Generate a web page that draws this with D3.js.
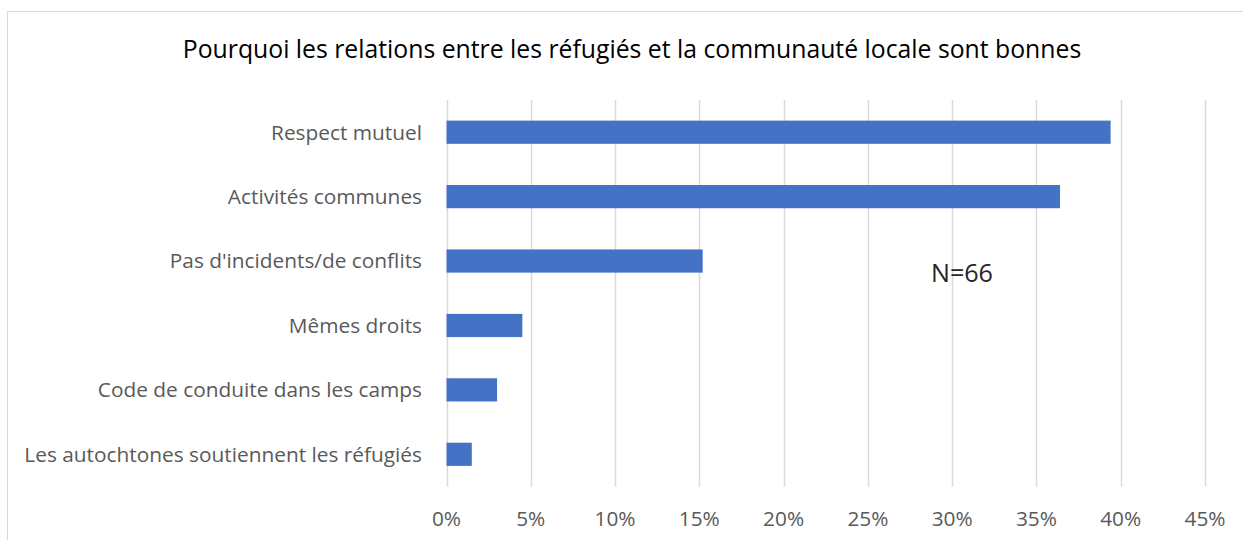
<!DOCTYPE html>
<html><head><meta charset="utf-8">
<script src="https://cdn.jsdelivr.net/npm/d3@7"></script>
<style>body{margin:0;background:#fff;} svg{display:block;}</style>
</head><body>
<svg id="c" width="1243" height="540"></svg>
<script>
const categories = ["Respect mutuel","Activités communes","Pas d'incidents/de conflits","Mêmes droits","Code de conduite dans les camps","Les autochtones soutiennent les réfugiés"];
const values = [39.4, 36.4, 15.2, 4.5, 3.0, 1.5];
const ticks = [0,5,10,15,20,25,30,35,40,45];
const title = "Pourquoi les relations entre les réfugiés et la communauté locale sont bonnes";
const note = "N=66";

const svg = d3.select("#c");
const font = "'Open Sans', Lato, sans-serif";

function fitSize(txt, target, base){
  const t = svg.append("text").attr("font-family",font).attr("font-size",base).text(txt);
  const w = t.node().getComputedTextLength(); t.remove();
  return base*target/w;
}
const titleSize = fitSize(title, 899, 24);
const labelSize = fitSize(categories[5], 398, 18);
const tickSize = fitSize("45%", 41, 18);
const noteSize = fitSize(note, 62, 20);

svg.append("rect").attr("x",7.5).attr("y",11.5).attr("width",1300).attr("height",600)
  .attr("fill","#fff").attr("stroke","#d9d9d9").attr("stroke-width",1);

const x = d3.scaleLinear().domain([0,45]).range([446.5,1205]);
const y = d3.scaleBand().domain(categories).range([100,486.5]).paddingInner(0.64).paddingOuter(0.32);

svg.append("g").selectAll("line").data(ticks).join("line")
  .attr("x1",d=>Math.round(x(d))+0.5).attr("x2",d=>Math.round(x(d))+0.5)
  .attr("y1",100).attr("y2",486.5).attr("stroke","#d9d9d9").attr("stroke-width",1.5);

svg.append("g").selectAll("rect").data(values).join("rect")
  .attr("x",x(0)).attr("y",(d,i)=>y(categories[i]))
  .attr("width",d=>x(d)-x(0)).attr("height",y.bandwidth()).attr("fill","#4472C4");

svg.append("g").selectAll("text").data(categories).join("text")
  .attr("x",422).attr("y",d=>y(d)+y.bandwidth()/2).attr("dy","0.35em")
  .attr("text-anchor","end").attr("font-family",font).attr("font-size",labelSize)
  .attr("fill","#595959").text(d=>d);

svg.append("g").selectAll("text").data(ticks).join("text")
  .attr("x",d=>x(d)).attr("y",519).attr("dy","0.35em")
  .attr("text-anchor","middle").attr("font-family",font).attr("font-size",tickSize)
  .attr("fill","#595959").text(d=>d+"%");

svg.append("text").attr("x",632).attr("y",49).attr("dy","0.35em")
  .attr("text-anchor","middle").attr("font-family",font).attr("font-size",titleSize)
  .attr("fill","#000").text(title);

svg.append("text").attr("x",962).attr("y",273).attr("dy","0.35em")
  .attr("text-anchor","middle").attr("font-family",font).attr("font-size",noteSize)
  .attr("fill","#262626").text(note);
</script>
</body></html>
